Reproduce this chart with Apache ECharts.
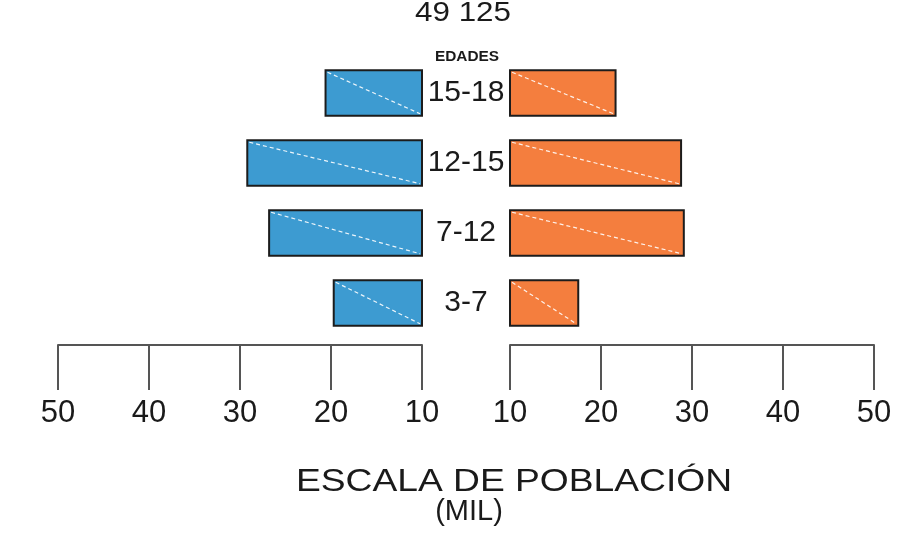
<!DOCTYPE html>
<html>
<head>
<meta charset="utf-8">
<title>Pirámide de población por edades</title>
<script src="https://cdn.jsdelivr.net/npm/echarts@6/dist/echarts.min.js"></script>
<style>
  html, body { margin: 0; padding: 0; background: #ffffff; }
  #chart { width: 916px; height: 540px; }
</style>
</head>
<body>
<div id="chart"></div>
<script>
// Age groups, listed from the bottom of the pyramid to the top
const categories = ['3-7', '7-12', '12-15', '15-18'];
// Population in thousands for each side of the pyramid
const leftValues = [19.7, 26.8, 29.2, 20.6];
const rightValues = [17.5, 29.1, 28.8, 21.6];
// Scale ticks (thousands)
const scaleTicks = [10, 20, 30, 40, 50];
const totalLabel = '49 125';

const FONT = '"Liberation Sans", Arial, Helvetica, sans-serif';
const INK = '#1a1a1a';
const BASE = scaleTicks[0];

// Draws one bar from the scale base to the value, with a dashed diagonal
function barRenderer(color) {
  return function (params, api) {
    const cat = api.value(0);
    const val = api.value(1);
    const a = api.coord([BASE, cat]);
    const b = api.coord([val, cat]);
    const band = api.size([0, 1])[1];
    const h = band * 0.65;
    const x0 = Math.min(a[0], b[0]);
    const x1 = Math.max(a[0], b[0]);
    const y0 = a[1] - h / 2;
    const y1 = a[1] + h / 2;
    return {
      type: 'group',
      children: [
        {
          type: 'rect',
          shape: { x: x0, y: y0, width: x1 - x0, height: h },
          style: { fill: color, stroke: '#1c1c1c', lineWidth: 2 }
        },
        {
          type: 'line',
          shape: { x1: x0 + 2, y1: y0 + 2, x2: x1 - 2, y2: y1 - 2 },
          style: { stroke: 'rgba(255,255,255,0.9)', lineWidth: 1.2, lineDash: [4, 3] }
        }
      ]
    };
  };
}

function valueAxis(gridIndex, inverse) {
  return {
    type: 'value',
    gridIndex: gridIndex,
    min: 10,
    max: 50,
    interval: 10,
    inverse: inverse,
    position: 'bottom',
    offset: 7,
    axisLine: { show: true, lineStyle: { color: '#555555', width: 2 } },
    axisTick: { show: true, length: 45, lineStyle: { color: '#555555', width: 2 } },
    axisLabel: {
      show: true,
      margin: 53,
      fontSize: 31,
      fontFamily: FONT,
      color: INK,
      formatter: function (v) { return scaleTicks.indexOf(v) >= 0 ? String(v) : ''; }
    },
    splitLine: { show: false }
  };
}

const chart = echarts.init(document.getElementById('chart'), null, { renderer: 'canvas' });

chart.setOption({
  backgroundColor: '#ffffff',
  animation: false,
  grid: [
    { left: 58, right: 494, top: 58, height: 280 },
    { left: 510, right: 42, top: 58, height: 280 }
  ],
  xAxis: [valueAxis(0, true), valueAxis(1, false)],
  yAxis: [
    {
      type: 'category',
      gridIndex: 0,
      data: categories,
      position: 'right',
      axisLine: { show: false },
      axisTick: { show: false },
      axisLabel: {
        show: true,
        margin: 44,
        align: 'center',
        fontSize: 30,
        fontFamily: FONT,
        color: INK
      }
    },
    {
      type: 'category',
      gridIndex: 1,
      data: categories,
      show: false
    }
  ],
  series: [
    {
      type: 'custom',
      name: 'izquierda',
      xAxisIndex: 0,
      yAxisIndex: 0,
      renderItem: barRenderer('#3d9bd1'),
      data: leftValues.map(function (v, i) { return [i, v]; }),
      encode: { x: 1, y: 0 }
    },
    {
      type: 'custom',
      name: 'derecha',
      xAxisIndex: 1,
      yAxisIndex: 1,
      renderItem: barRenderer('#f47e3e'),
      data: rightValues.map(function (v, i) { return [i, v]; }),
      encode: { x: 1, y: 0 }
    }
  ],
  graphic: [
    {
      type: 'text',
      x: 463,
      y: 13,
      scaleX: 1.12,
      style: { text: totalLabel, fontSize: 28, fontFamily: FONT, fill: INK, align: 'center', verticalAlign: 'middle' }
    },
    {
      type: 'text',
      x: 467,
      y: 57,
      scaleX: 1.1,
      style: { text: 'EDADES', fontSize: 14, fontWeight: 'bold', fontFamily: FONT, fill: INK, align: 'center', verticalAlign: 'middle' }
    },
    {
      type: 'text',
      x: 514,
      y: 482,
      scaleX: 1.2,
      style: { text: 'ESCALA DE POBLACIÓN', fontSize: 31, fontFamily: FONT, fill: INK, align: 'center', verticalAlign: 'middle' }
    },
    {
      type: 'text',
      x: 469,
      y: 512,
      style: { text: '(MIL)', fontSize: 29, fontFamily: FONT, fill: INK, align: 'center', verticalAlign: 'middle' }
    }
  ]
});
</script>
</body>
</html>
